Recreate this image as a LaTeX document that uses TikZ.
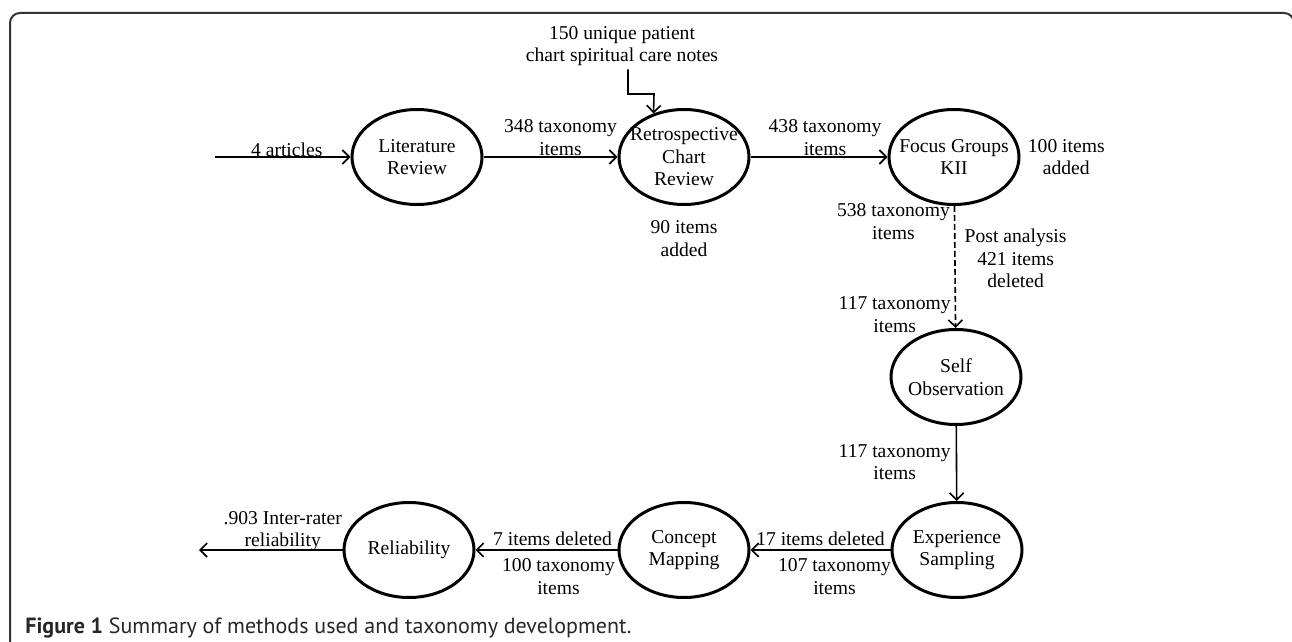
\documentclass[tikz,border=0pt]{standalone}
\usepackage{fontspec}
\setmainfont{Liberation Serif}
\newfontfamily\capfont{PT Sans}
\usetikzlibrary{arrows.meta,shapes.geometric,positioning}

\begin{document}
\begin{tikzpicture}[x=0.5pt, y=-0.5pt, font=\fontsize{9.8}{11.3}\selectfont]

% Define styles
\tikzstyle{method} = [ellipse, draw=black, line width=1.5pt, minimum width=65pt, minimum height=47.5pt, inner sep=-8pt, align=center]
\tikzstyle{arrow} = [-{Straight Barb[length=3.5pt,width=7pt]}, line width=0.8pt, draw=black]
\tikzstyle{lbl} = [align=center, inner sep=1.5pt]
\tikzstyle{toplbl} = [lbl, anchor=south, inner sep=0.5pt]
\tikzstyle{botlbl} = [lbl, anchor=north, yshift=-2.5pt]
\tikzstyle{frame} = [line width=1pt, draw=black!80, rounded corners=5pt]

% Page and frame
\useasboundingbox (0,0) rectangle (1292,642);
\clip (0,0) rectangle (1292,642);
\draw[frame] (10,660) -- (10,13) -- (1294,13) -- (1294,660);
\node[anchor=base west, inner sep=0pt, font=\capfont\fontsize{11}{13}\selectfont, text=black!85] (caption) at (25,633) {\textbf{Figure 1} Summary of methods used and taxonomy development.};

% Define nodes (methods)
\node[method] (litReview) at (417,157) {Literature\\Review};
\node[method] (retroReview) at (684,157) {Retrospective\\Chart\\Review};
\node[method] (focusGroups) at (954,157) {Focus Groups\\KII};
\node[method] (selfObs) at (956,377) {Self\\Observation};
\node[method] (expSampling) at (957,550) {Experience\\Sampling};
\node[method] (conceptMap) at (684,550) {Concept\\Mapping};
\node[method] (reliability) at (409,550) {Reliability};

% Side notes
\node[lbl] (chartNotes) at (622,46) {150 unique patient\\chart spiritual care notes};
\node[lbl, below=5.5pt of retroReview] (retroAdded) {90 items\\added};
\node[lbl, right=2pt of focusGroups] (focusAdded) {100 items\\added};

% Free ends
\coordinate (inStart) at (215,157);
\coordinate (outEnd) at (199,550);
\coordinate (notesJog) at (654,94);

% Relationships (arrows)
\draw[arrow] (inStart) -- node[lbl, anchor=base, xshift=2pt] (articlesLbl) {4 articles} (litReview);
\draw[arrow] (litReview) -- node[toplbl, xshift=5pt] (litOut) {348 taxonomy\\items} (retroReview);
\draw[arrow] ([xshift=3pt]chartNotes.south) |- (notesJog) -- (retroReview.125.5);
\draw[arrow] (retroReview) -- node[toplbl, xshift=3pt] (retroOut) {438 taxonomy\\items} (focusGroups);

\draw[arrow, dash pattern=on 3pt off 1.5pt] (focusGroups) --
  node[lbl, pos=0.13, left, inner sep=2pt] (focusOut) {538 taxonomy\\items}
  node[lbl, pos=0.43, right, xshift=3pt] (postAnalysis) {Post analysis\\421 items\\deleted}
  node[lbl, pos=0.89, left, inner sep=2pt] (selfIn) {117 taxonomy\\items} (selfObs);
\draw[arrow] (selfObs) -- node[lbl, pos=0.48, left, inner sep=2.5pt] (selfOut) {117 taxonomy\\items} (expSampling);

\draw[arrow] (expSampling) --
  node[lbl, above, inner sep=2pt] (expDeleted) {17 items deleted}
  node[botlbl, xshift=7pt] (expOut) {107 taxonomy\\items} (conceptMap);
\draw[arrow] (conceptMap) --
  node[lbl, above, inner sep=2pt, xshift=3pt] (conceptDeleted) {7 items deleted}
  node[botlbl, xshift=6pt] (conceptOut) {100 taxonomy\\items} (reliability);
\draw[arrow] (reliability) -- node[toplbl, inner sep=0pt, yshift=-1pt, xshift=6pt] (irr) {.903 Inter-rater\\reliability} (outEnd);

\end{tikzpicture}
\end{document}
